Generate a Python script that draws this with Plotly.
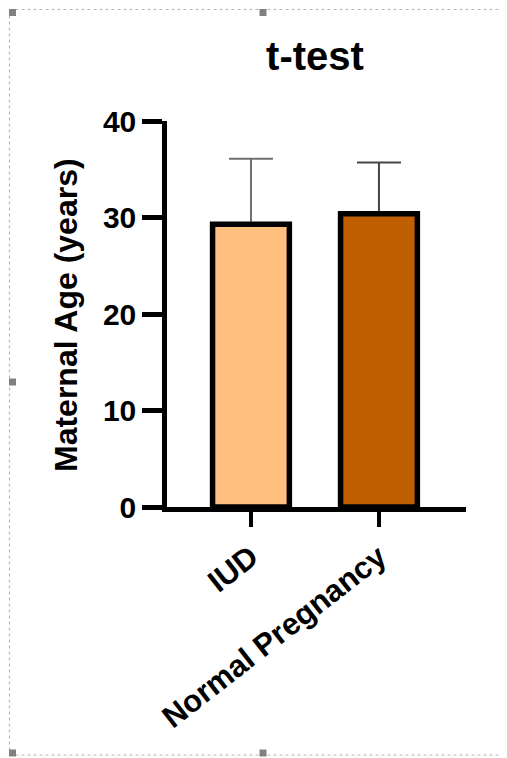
import plotly.graph_objects as go

categories = ["IUD", "Normal Pregnancy"]
means = [29.3, 30.4]
sd_upper = [6.8, 5.3]
fill_colors = ["#FFBF7F", "#BF5F00"]
err_colors = ["#707070", "#454545"]
y_ticks = [0, 10, 20, 30, 40]

OFF = 8  # page body margin
W, H = 507 - OFF, 758 - OFF
L, R, T, B = 167, 466, 121, 507  # plot area in page pixels

def px(x):
    return (x - L) / (R - L)

def py(y):
    return (B - y) / (B - T)

fig = go.Figure()
# error bars first (drawn under the bar outlines)
for i, cat in enumerate(categories):
    fig.add_trace(go.Bar(
        x=[cat], y=[means[i]], width=0.6,
        marker=dict(color="rgba(0,0,0,0)", line=dict(width=0)),
        error_y=dict(type="data", symmetric=False, array=[sd_upper[i]], arrayminus=[0],
                     color=err_colors[i], thickness=2, width=22),
        showlegend=False, hoverinfo="skip",
    ))
for i, cat in enumerate(categories):
    fig.add_trace(go.Bar(
        x=[cat], y=[means[i]], width=0.6,
        marker=dict(color=fill_colors[i], line=dict(color="black", width=5.5)),
        showlegend=False,
    ))

font_fam = "Liberation Sans, Arial, sans-serif"

fig.update_layout(
    width=W, height=H,
    margin=dict(l=L - OFF, r=W - (R - OFF), t=T - OFF, b=H - (B - OFF), autoexpand=False),
    paper_bgcolor="white", plot_bgcolor="white",
    barmode="overlay",
    title=dict(text="t-test", x=(315 - OFF) / W, xanchor="center",
               y=1 - (56 - OFF) / H, yanchor="middle",
               xref="container", yref="container",
               font=dict(family=font_fam, size=40, color="black", weight="bold")),
    xaxis=dict(
        type="category", categoryorder="array", categoryarray=categories,
        range=[-0.656, 1.68],
        showline=True, linecolor="black", linewidth=4.5,
        ticks="outside", ticklen=15, tickwidth=4, tickcolor="black",
        tickangle=-38,
        tickfont=dict(family=font_fam, size=31, color="black", weight="bold"),
        showgrid=False, zeroline=False,
    ),
    yaxis=dict(
        range=[0, 40], tickvals=y_ticks,
        showline=True, linecolor="black", linewidth=4.5,
        ticks="outside", ticklen=20, tickwidth=4.5, tickcolor="black",
        tickfont=dict(family=font_fam, size=30, color="black", weight="bold"),
        showgrid=False, zeroline=False,
    ),
    annotations=[dict(
        text="Maternal Age (years)", textangle=-90,
        x=px(66), y=py(315), xref="paper", yref="paper",
        xanchor="center", yanchor="middle", showarrow=False,
        font=dict(family=font_fam, size=32, color="black", weight="bold"),
    )],
)

# selection frame (dotted border with handles)
shapes = []
dot = dict(color="#b8b8b8", width=1.2, dash="dot")
shapes.append(dict(type="line", xref="paper", yref="paper", x0=px(9.5), x1=px(507), y0=py(9.5), y1=py(9.5), line=dot))
shapes.append(dict(type="line", xref="paper", yref="paper", x0=px(9.5), x1=px(507), y0=py(755), y1=py(755), line=dot))
shapes.append(dict(type="line", xref="paper", yref="paper", x0=px(9.5), x1=px(9.5), y0=py(9.5), y1=py(755), line=dot))
for (hx, hy) in [(12.5, 12.5), (263, 12.5), (12.5, 382), (12.5, 753), (263, 753)]:
    shapes.append(dict(type="rect", xref="paper", yref="paper",
                       x0=px(hx - 3.5), x1=px(hx + 3.5), y0=py(hy - 3.5), y1=py(hy + 3.5),
                       fillcolor="#808080", line=dict(width=0)))
fig.update_layout(shapes=shapes)

fig.write_html("out.html")
